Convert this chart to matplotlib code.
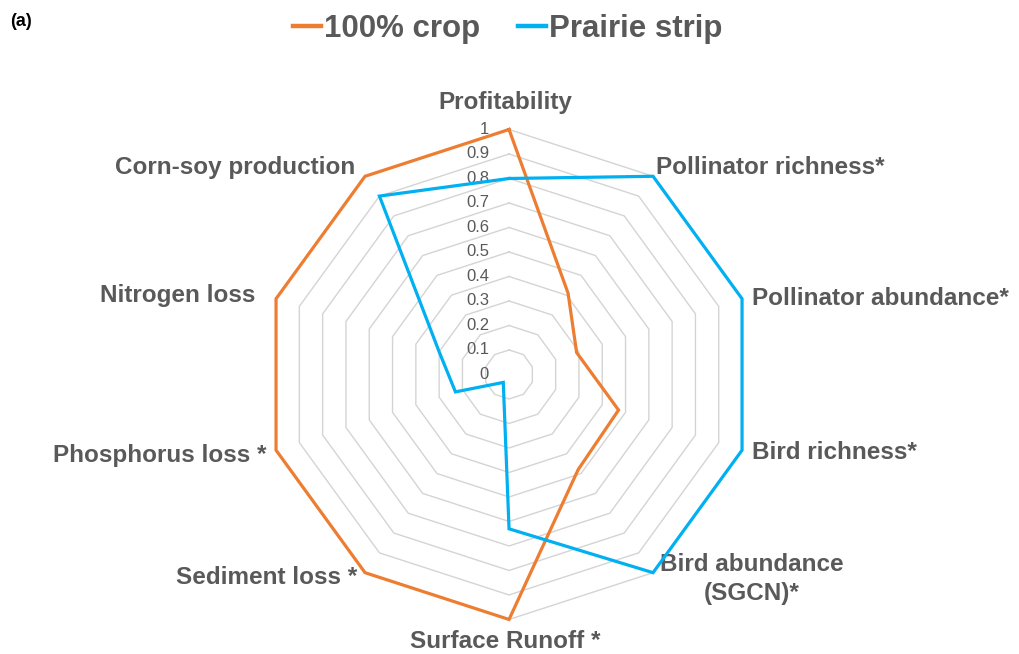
import numpy as np
import matplotlib
matplotlib.use("Agg")
import matplotlib.pyplot as plt
from matplotlib.lines import Line2D

# ---------------- data ----------------
categories = ["Profitability", "Pollinator richness*", "Pollinator abundance*",
              "Bird richness*", "Bird abundance\n(SGCN)*", "Surface Runoff *",
              "Sediment loss *", "Phosphorus loss *", "Nitrogen loss",
              "Corn-soy production"]
crop_values = [1.0, 0.41, 0.29, 0.47, 0.48, 1.0, 1.0, 1.0, 1.0, 1.0]
prairie_values = [0.80, 1.0, 1.0, 1.0, 1.0, 0.63, 0.04, 0.23, 0.30, 0.90]
series_names = ["100% crop", "Prairie strip"]
tick_values = [0, 0.1, 0.2, 0.3, 0.4, 0.5, 0.6, 0.7, 0.8, 0.9, 1.0]
tick_labels = ["0", "0.1", "0.2", "0.3", "0.4", "0.5", "0.6", "0.7", "0.8", "0.9", "1"]

# ---------------- style ----------------
plt.rcParams["font.family"] = ["Liberation Sans", "DejaVu Sans"]
ORANGE = "#ED7D31"
BLUE = "#00B0F0"
GRID = "#D4D4D4"
TEXT = "#595959"

# label placement (offset in pixels from the r=1 vertex, alignment)
label_style = [
    ((-4, 27), "center", "center"),
    ((3, 9), "left", "center"),
    ((10, 0), "left", "center"),
    ((10, -2), "left", "center"),
    ((99, -6), "center", "center"),
    ((-4, -22), "center", "center"),
    ((-8, -5), "right", "center"),
    ((-10, -5), "right", "center"),
    ((-21, 3), "right", "center"),
    ((-10, 9), "right", "center"),
]

fig = plt.figure(figsize=(10.19, 6.54), dpi=100)
fig.patch.set_facecolor("white")

ax = fig.add_axes([0.2591, 0.0528, 0.4809, 0.7492], projection="polar")
ax.set_theta_zero_location("N")
ax.set_theta_direction(-1)
ax.set_ylim(0, 1)
ax.grid(False)
ax.spines["polar"].set_visible(False)
ax.set_xticks([])
ax.set_yticks([])
ax.patch.set_alpha(0)

n = len(categories)
angles = np.arange(n) * 2 * np.pi / n
closed = np.append(angles, angles[0])

# decagon gridlines
for v in tick_values[1:]:
    ax.plot(closed, [v] * (n + 1), color=GRID, lw=1.0, clip_on=False, zorder=1)

# series
ax.plot(closed, crop_values + crop_values[:1], color=ORANGE, lw=2.3,
        clip_on=False, zorder=3, solid_joinstyle="miter")
ax.plot(closed, prairie_values + prairie_values[:1], color=BLUE, lw=2.3,
        clip_on=False, zorder=4, solid_joinstyle="miter")

# radial tick labels
for v, lab in zip(tick_values, tick_labels):
    ax.annotate(lab, xy=(0, v), xytext=(-20, 0), textcoords="offset pixels",
                ha="right", va="center", fontsize=12, color=TEXT,
                annotation_clip=False, zorder=2)

# category labels
for ang, lab, (off, ha, va) in zip(angles, categories, label_style):
    ax.annotate(lab, xy=(ang, 1.0), xytext=off, textcoords="offset pixels",
                ha=ha, va=va, fontsize=17.5, fontweight="bold", color=TEXT,
                multialignment="center", annotation_clip=False, linespacing=1.35)

# legend
handles = [Line2D([], [], color=ORANGE, lw=3.2),
           Line2D([], [], color=BLUE, lw=3.2)]
fig.legend(handles, series_names, loc="center", bbox_to_anchor=(0.498, 0.955),
           ncol=2, frameon=False, handlelength=0.9, handletextpad=0.1,
           columnspacing=1.2, prop={"size": 22.5, "weight": "bold"},
           labelcolor=TEXT)

fig.text(0.010, 1 - 21 / 654, "(a)", fontsize=13, fontweight="bold",
         color="black", ha="left", va="center")

fig.savefig("out.png", dpi=100, facecolor="white")
